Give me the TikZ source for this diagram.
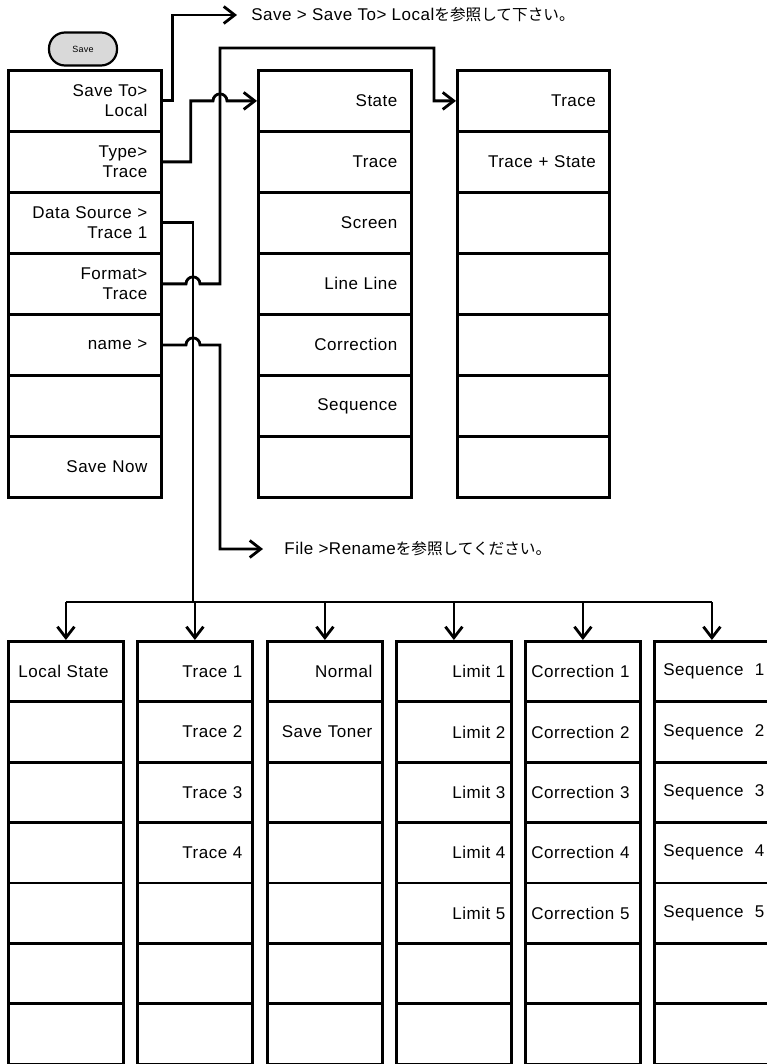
\documentclass[tikz,border=0pt]{standalone}
\usepackage{fontspec}
\setmainfont[LetterSpace=3]{Liberation Sans}
\newfontfamily\jpfont[Scale=0.92]{Noto Sans CJK JP}
\usetikzlibrary{arrows.meta,calc}

\begin{document}
\begin{tikzpicture}[x=1pt, y=1pt, line width=2.8pt,
  >={Straight Barb[length=11pt,width=17pt]},
  cell/.style={draw, minimum width=153pt, minimum height=61pt, text width=125pt,
    align=right, anchor=north west, inner sep=0pt, font=\fontsize{17}{20}\selectfont},
  subcell/.style={cell, minimum width=115pt, minimum height=60.4pt, text width=95pt},
  savebtn/.style={draw, fill=gray!30, line width=2.2pt, rounded corners=16pt,
    minimum width=68pt, minimum height=33pt, font=\fontsize{9}{10}\selectfont},
  note/.style={anchor=west, inner sep=0pt, font=\fontsize{17}{20}\selectfont}]
\useasboundingbox (0,0) rectangle (766,-1064);

% soft key column and the button
\node[savebtn] (save) at (83,-49) {Save};
\foreach \txt [count=\i] in {{Save To>\\Local},{Type>\\Trace},{Data Source >\\Trace 1},{Format>\\Trace},{name >},{},{Save Now}}
  \node[cell] (L\i) at (7,{-69-61*(\i-1)}) {\txt};

% type and format menus
\foreach \txt [count=\i] in {State,Trace,Screen,Line Line,Correction,Sequence,{}}
  \node[cell] (M\i) at (257,{-69-61*(\i-1)}) {\txt};
\foreach \txt [count=\i] in {Trace,Trace + State,{},{},{},{},{}}
  \node[cell, minimum width=152pt] (R\i) at (456,{-69-61*(\i-1)}) {\txt};

% data source menus
\foreach \txt [count=\i] in {Local State,{},{},{},{},{},{}}
  \node[subcell, align=left] (loc\i) at (7,{-640-60.4*(\i-1)}) {\txt};
\foreach \txt [count=\i] in {Trace 1,Trace 2,Trace 3,Trace 4,{},{},{}}
  \node[subcell] (trc\i) at (136,{-640-60.4*(\i-1)}) {\txt};
\foreach \txt [count=\i] in {Normal,Save Toner,{},{},{},{},{}}
  \node[subcell] (fmt\i) at (266,{-640-60.4*(\i-1)}) {\txt};
\foreach \txt [count=\i] in {Limit 1,Limit 2,Limit 3,Limit 4,Limit 5,{},{}}
  \node[subcell, text width=103pt] (lim\i) at (395,{-640-60.4*(\i-1)}) {\txt};
\foreach \txt [count=\i] in {Correction 1,Correction 2,Correction 3,Correction 4,Correction 5,{},{}}
  \node[subcell, align=left, text width=103pt] (cor\i) at (524,{-640-60.4*(\i-1)}) {\txt};
\foreach \txt [count=\i] in {Sequence~~1,Sequence~~2,Sequence~~3,Sequence~~4,Sequence~~5,{},{}}
  \node[subcell, align=left, text width=97pt] (seq\i) at (653,{-640-60.4*(\i-1)}) {\txt};

% notes
\node[note] (note1) at (250,-15) {Save > Save To> Local{\jpfont を参照して下さい。}};
\node[note] (note2) at (283,-549) {File >Rename{\jpfont を参照してください。}};

% routing points
\coordinate (trk) at (193,-602);
\coordinate (vD) at (220,-48);
\coordinate (vE) at (434,-48);

% connectors
\draw[->, shorten >=13pt] (L1.east) -- ++(10,0) |- (note1.west);
\draw[->] (L2.east) -- ++(28,0) |- ($(M1.west -| vD)+(-7,0)$)
  arc[start angle=180, end angle=0, radius=7pt] -- (M1.west);
\draw[->] (L4.east) -- ($(L4.east -| trk)+(-7,0)$)
  arc[start angle=180, end angle=0, radius=7pt] -- (L4.east -| vD) -- (vD) -- (vE) |- (R1.west);
\draw[->, shorten >=20pt] (L5.east) -- ($(L5.east -| trk)+(-7,0)$)
  arc[start angle=180, end angle=0, radius=7pt] -- (L5.east -| vD) |- (note2.west);
\draw (L3.east) -| (trk);
\draw (loc1.north |- trk) -- (seq1.north |- trk);
\foreach \n in {loc,trc,fmt,lim,cor,seq}
  \draw[->] (\n1.north |- trk) -- (\n1.north);
\end{tikzpicture}
\end{document}
